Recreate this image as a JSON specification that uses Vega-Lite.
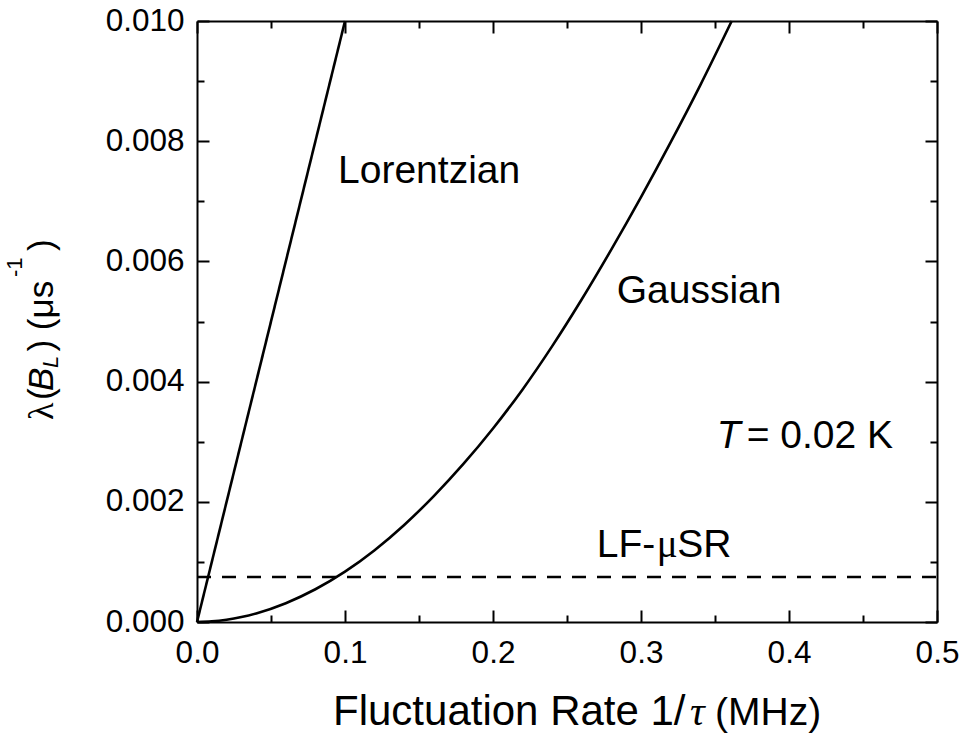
{
  "$schema": "https://vega.github.io/schema/vega-lite/v6.json",
  "width": 740,
  "height": 601,
  "autosize": {"type": "none"},
  "padding": {"left": 197, "top": 21, "right": 27, "bottom": 116},
  "background": "white",
  "config": {
    "view": {"stroke": null},
    "axis": {
      "domainColor": "black", "domainWidth": 2, "tickColor": "black", "tickWidth": 2,
      "labelFont": "Liberation Sans", "labelFontSize": 31.5, "labelColor": "black",
      "grid": false, "labelFlush": false, "labelOverlap": false, "labelBound": false
    }
  },
  "datasets": {
    "curves": [
      {"series": "Lorentzian", "x": 0, "y": 0},
      {"series": "Lorentzian", "x": 0.1, "y": 0.01},
      {"series": "Gaussian", "x": 0, "y": 0},
      {"series": "Gaussian", "x": 0.01, "y": 0.0000098},
      {"series": "Gaussian", "x": 0.02, "y": 0.0000375},
      {"series": "Gaussian", "x": 0.03, "y": 0.000082},
      {"series": "Gaussian", "x": 0.04, "y": 0.000143},
      {"series": "Gaussian", "x": 0.06, "y": 0.000313},
      {"series": "Gaussian", "x": 0.08, "y": 0.000545},
      {"series": "Gaussian", "x": 0.10, "y": 0.000838},
      {"series": "Gaussian", "x": 0.12, "y": 0.001195},
      {"series": "Gaussian", "x": 0.14, "y": 0.001615},
      {"series": "Gaussian", "x": 0.16, "y": 0.002095},
      {"series": "Gaussian", "x": 0.18, "y": 0.002630},
      {"series": "Gaussian", "x": 0.20, "y": 0.003220},
      {"series": "Gaussian", "x": 0.22, "y": 0.003870},
      {"series": "Gaussian", "x": 0.24, "y": 0.004590},
      {"series": "Gaussian", "x": 0.26, "y": 0.005370},
      {"series": "Gaussian", "x": 0.28, "y": 0.006200},
      {"series": "Gaussian", "x": 0.30, "y": 0.007070},
      {"series": "Gaussian", "x": 0.32, "y": 0.007980},
      {"series": "Gaussian", "x": 0.34, "y": 0.008930},
      {"series": "Gaussian", "x": 0.3613, "y": 0.01}
    ],
    "lf": [{"x": 0, "y": 0.00075}, {"x": 0.5, "y": 0.00075}],
    "labels": [
      {"label": "Lorentzian", "x": 0.0953, "y": 0.00731},
      {"label": "Gaussian", "x": 0.2836, "y": 0.0053},
      {"label": "LF-", "x": 0.2701, "y": 0.001087},
      {"label": "SR", "x": 0.3245, "y": 0.001087},
      {"label": "= 0.02 K", "x": 0.3714, "y": 0.00289}
    ],
    "mulabel": [{"label": "μ", "x": 0.3106, "y": 0.001087}],
    "tlabel": [{"label": "T", "x": 0.3511, "y": 0.00289}],
    "xtitle": [
      {"t": "Fluctuation Rate 1/", "x": 0.0919, "y": -0.001714}
    ],
    "xunit": [{"t": "(MHz)", "x": 0.3500, "y": -0.001714}],
    "xtau": [{"t": "τ", "x": 0.3331, "y": -0.001714}],
    "ylambda": [{"t": "λ", "x": -0.0973, "y": 0.003361}],
    "ymain": [
      {"t": "(", "x": -0.0973, "y": 0.003694},
      {"t": ") (μs", "x": -0.0973, "y": 0.004500},
      {"t": ")", "x": -0.0973, "y": 0.006173}
    ],
    "yB": [{"t": "B", "x": -0.0973, "y": 0.003844}],
    "yL": [{"t": "L", "x": -0.0939, "y": 0.004226}],
    "ysup": [{"t": "-1", "x": -0.1182, "y": 0.00574}]
  },
  "layer": [
    {
      "data": {"name": "curves"},
      "mark": {"type": "line", "color": "black", "strokeWidth": 2.6, "interpolate": "monotone"},
      "encoding": {
        "x": {"field": "x", "type": "quantitative", "scale": {"domain": [0, 0.5], "nice": false},
          "axis": {"orient": "bottom", "values": [0, 0.1, 0.2, 0.3, 0.4, 0.5], "format": ".1f", "tickSize": -12, "labelPadding": 52, "labelBaseline": "alphabetic", "title": null}},
        "y": {"field": "y", "type": "quantitative", "scale": {"domain": [0, 0.01], "nice": false},
          "axis": {"orient": "left", "values": [0, 0.002, 0.004, 0.006, 0.008, 0.01], "format": ".3f", "tickSize": -12, "labelPadding": 25, "title": null}},
        "detail": {"field": "series"}
      }
    },
    {
      "data": {"name": "lf"},
      "mark": {"type": "line", "color": "black", "strokeWidth": 2.6, "strokeDash": [14, 11]},
      "encoding": {
        "x": {"field": "x", "type": "quantitative", "scale": {"domain": [0, 0.5], "nice": false},
          "axis": {"orient": "top", "values": [0, 0.1, 0.2, 0.3, 0.4, 0.5], "tickSize": -12, "labels": false, "title": null}},
        "y": {"field": "y", "type": "quantitative", "scale": {"domain": [0, 0.01], "nice": false},
          "axis": {"orient": "right", "values": [0, 0.002, 0.004, 0.006, 0.008, 0.01], "tickSize": -12, "labels": false, "title": null}}
      }
    },
    {
      "data": {"name": "labels"},
      "mark": {"type": "text", "font": "Liberation Sans", "fontSize": 39, "align": "left", "baseline": "alphabetic", "color": "black"},
      "encoding": {
        "x": {"field": "x", "type": "quantitative", "scale": {"domain": [0, 0.5], "nice": false},
          "axis": {"orient": "bottom", "values": [0.05, 0.15, 0.25, 0.35, 0.45], "tickSize": -7, "labels": false, "domain": false, "title": null}},
        "y": {"field": "y", "type": "quantitative", "scale": {"domain": [0, 0.01], "nice": false},
          "axis": {"orient": "left", "values": [0.001, 0.003, 0.005, 0.007, 0.009], "tickSize": -7, "labels": false, "domain": false, "title": null}},
        "text": {"field": "label"}
      }
    },
    {
      "data": {"name": "tlabel"},
      "mark": {"type": "text", "font": "Liberation Sans", "fontSize": 39, "fontStyle": "italic", "align": "left", "baseline": "alphabetic", "color": "black"},
      "encoding": {
        "x": {"field": "x", "type": "quantitative", "scale": {"domain": [0, 0.5], "nice": false},
          "axis": {"orient": "top", "values": [0.05, 0.15, 0.25, 0.35, 0.45], "tickSize": -7, "labels": false, "domain": false, "title": null}},
        "y": {"field": "y", "type": "quantitative", "scale": {"domain": [0, 0.01], "nice": false},
          "axis": {"orient": "right", "values": [0.001, 0.003, 0.005, 0.007, 0.009], "tickSize": -7, "labels": false, "domain": false, "title": null}},
        "text": {"field": "label"}
      }
    },
    {
      "data": {"name": "mulabel"},
      "mark": {"type": "text", "font": "Liberation Serif", "fontSize": 39, "align": "left", "baseline": "alphabetic", "color": "black"},
      "encoding": {
        "x": {"field": "x", "type": "quantitative", "scale": {"domain": [0, 0.5], "nice": false}, "axis": null},
        "y": {"field": "y", "type": "quantitative", "scale": {"domain": [0, 0.01], "nice": false}, "axis": null},
        "text": {"field": "label"}
      }
    },
    {
      "data": {"name": "xtitle"},
      "mark": {"type": "text", "font": "Liberation Sans", "fontSize": 42, "align": "left", "baseline": "alphabetic", "color": "black"},
      "encoding": {
        "x": {"field": "x", "type": "quantitative", "scale": {"domain": [0, 0.5], "nice": false}, "axis": null},
        "y": {"field": "y", "type": "quantitative", "scale": {"domain": [0, 0.01], "nice": false}, "axis": null},
        "text": {"field": "t"}
      }
    },
    {
      "data": {"name": "xunit"},
      "mark": {"type": "text", "font": "Liberation Sans", "fontSize": 39, "align": "left", "baseline": "alphabetic", "color": "black"},
      "encoding": {
        "x": {"field": "x", "type": "quantitative", "scale": {"domain": [0, 0.5], "nice": false}, "axis": null},
        "y": {"field": "y", "type": "quantitative", "scale": {"domain": [0, 0.01], "nice": false}, "axis": null},
        "text": {"field": "t"}
      }
    },
    {
      "data": {"name": "xtau"},
      "mark": {"type": "text", "font": "Liberation Serif", "fontSize": 41, "fontStyle": "italic", "align": "left", "baseline": "alphabetic", "color": "black"},
      "encoding": {
        "x": {"field": "x", "type": "quantitative", "scale": {"domain": [0, 0.5], "nice": false}, "axis": null},
        "y": {"field": "y", "type": "quantitative", "scale": {"domain": [0, 0.01], "nice": false}, "axis": null},
        "text": {"field": "t"}
      }
    },
    {
      "data": {"name": "ylambda"},
      "mark": {"type": "text", "font": "Liberation Serif", "fontSize": 36, "angle": 270, "align": "left", "baseline": "alphabetic", "color": "black"},
      "encoding": {
        "x": {"field": "x", "type": "quantitative", "scale": {"domain": [0, 0.5], "nice": false}, "axis": null},
        "y": {"field": "y", "type": "quantitative", "scale": {"domain": [0, 0.01], "nice": false}, "axis": null},
        "text": {"field": "t"}
      }
    },
    {
      "data": {"name": "ymain"},
      "mark": {"type": "text", "font": "Liberation Sans", "fontSize": 35, "angle": 270, "align": "left", "baseline": "alphabetic", "color": "black"},
      "encoding": {
        "x": {"field": "x", "type": "quantitative", "scale": {"domain": [0, 0.5], "nice": false}, "axis": null},
        "y": {"field": "y", "type": "quantitative", "scale": {"domain": [0, 0.01], "nice": false}, "axis": null},
        "text": {"field": "t"}
      }
    },
    {
      "data": {"name": "yB"},
      "mark": {"type": "text", "font": "Liberation Sans", "fontSize": 35, "fontStyle": "italic", "angle": 270, "align": "left", "baseline": "alphabetic", "color": "black"},
      "encoding": {
        "x": {"field": "x", "type": "quantitative", "scale": {"domain": [0, 0.5], "nice": false}, "axis": null},
        "y": {"field": "y", "type": "quantitative", "scale": {"domain": [0, 0.01], "nice": false}, "axis": null},
        "text": {"field": "t"}
      }
    },
    {
      "data": {"name": "yL"},
      "mark": {"type": "text", "font": "Liberation Sans", "fontSize": 22, "fontStyle": "italic", "angle": 270, "align": "left", "baseline": "alphabetic", "color": "black"},
      "encoding": {
        "x": {"field": "x", "type": "quantitative", "scale": {"domain": [0, 0.5], "nice": false}, "axis": null},
        "y": {"field": "y", "type": "quantitative", "scale": {"domain": [0, 0.01], "nice": false}, "axis": null},
        "text": {"field": "t"}
      }
    },
    {
      "data": {"name": "ysup"},
      "mark": {"type": "text", "font": "Liberation Sans", "fontSize": 22, "angle": 270, "align": "left", "baseline": "alphabetic", "color": "black"},
      "encoding": {
        "x": {"field": "x", "type": "quantitative", "scale": {"domain": [0, 0.5], "nice": false}, "axis": null},
        "y": {"field": "y", "type": "quantitative", "scale": {"domain": [0, 0.01], "nice": false}, "axis": null},
        "text": {"field": "t"}
      }
    }
  ],
  "resolve": {"axis": {"x": "independent", "y": "independent"}}
}
